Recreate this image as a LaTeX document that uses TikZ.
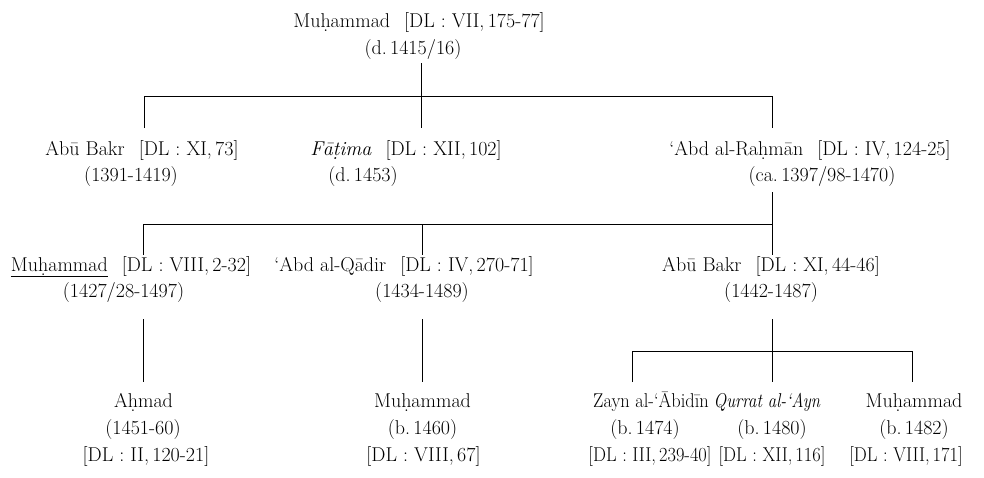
\documentclass[tikz,border=0pt]{standalone}
\usepackage{graphicx}
\newcommand\gp{\hspace{0.7em}}
\newcommand\cnd[2][0.92]{\scalebox{#1}[1]{#2}}
\begin{document}
\begin{tikzpicture}[x=1pt,y=-1pt,
  txt/.style={inner sep=0pt,anchor=base,font=\fontsize{20}{24}\selectfont},
  ln/.style={line width=1pt}]
\useasboundingbox (0,0) rectangle (984,477);
% row 1
\node[txt] (r1a) at (419,27) {Muḥammad\gp[DL : VII,\,175-77]};
\node[txt] (r1b) at (413,54) {(d.\,1415/16)};
% row 2
\node[txt] (r2a) at (142,155) {Abū Bakr\gp[DL : XI,\,73]};
\node[txt] (r2ad) at (131,181) {(1391-1419)};
\node[txt] (r2b) at (406,155) {\textit{Fāṭima}\gp[DL : XII,\,102]};
\node[txt] (r2bd) at (363,181) {(d.\,1453)};
\node[txt] (r2c) at (810,155) {‘Abd al-Raḥmān\gp[DL : IV,\,124-25]};
\node[txt] (r2cd) at (822,181) {(ca.\,1397/98-1470)};
% row 3
\node[txt] (r3a) at (131,271) {\underline{Muḥammad}\gp[DL : VIII,\,2-32]};
\node[txt] (r3ad) at (123.5,297) {(1427/28-1497)};
\node[txt] (r3b) at (404,271) {‘Abd al-Qādir\gp[DL : IV,\,270-71]};
\node[txt] (r3bd) at (422,297) {(1434-1489)};
\node[txt] (r3c) at (771,271) {Abū Bakr\gp[DL : XI,\,44-46]};
\node[txt] (r3cd) at (771,297) {(1442-1487)};
% row 4
\node[txt] (r4a) at (143.5,407) {Aḥmad};
\node[txt] (r4ad) at (143,434) {(1451-60)};
\node[txt] (r4ar) at (146,461) {[DL : II,\,120-21]};
\node[txt] (r4b) at (422.5,407) {Muḥammad};
\node[txt] (r4bd) at (422.5,434) {(b.\,1460)};
\node[txt] (r4br) at (423.5,461) {[DL : VIII,\,67]};
\node[txt] (r4c) at (651,407) {\cnd{Zayn al-‘Ābidīn}};
\node[txt] (r4cd) at (645,434) {(b.\,1474)};
\node[txt] (r4cr) at (650,461) {\cnd{[DL : III,\,239-40]}};
\node[txt] (r4d) at (767,407) {\cnd[0.84]{\textit{Qurrat al-‘Ayn}}};
\node[txt] (r4dd) at (772,434) {(b.\,1480)};
\node[txt] (r4dr) at (772,461) {\cnd{[DL : XII,\,116]}};
\node[txt] (r4e) at (914,407) {Muḥammad};
\node[txt] (r4ed) at (914,434) {(b.\,1482)};
\node[txt] (r4er) at (906,461) {\cnd{[DL : VIII,\,171]}};
% junctions
\coordinate (t1) at (421,63);
\coordinate (j1) at (421,96);
\coordinate (j1l) at (144,96);
\coordinate (j1r) at (772,96);
\coordinate (d1a) at (144,128);
\coordinate (d1b) at (421,128);
\coordinate (d1c) at (772,128);
\coordinate (t2) at (772,192);
\coordinate (j2) at (772,224);
\coordinate (j2l) at (143,224);
\coordinate (j2m) at (422,224);
\coordinate (d2a) at (143,255);
\coordinate (d2b) at (422,255);
\coordinate (d2c) at (772,255);
\coordinate (t3a) at (143,319);
\coordinate (t3b) at (422,319);
\coordinate (t3c) at (772,319);
\coordinate (d3a) at (143,382);
\coordinate (d3b) at (422,382);
\coordinate (j3) at (772,351);
\coordinate (j3l) at (632,351);
\coordinate (j3r) at (912,351);
\coordinate (d4c) at (632,382);
\coordinate (d4d) at (772,382);
\coordinate (d4e) at (912,382);
% connectors
\draw[ln] (t1) -- (d1b);
\draw[ln] (d1a) -- (j1l) -- (j1r) -- (d1c);
\draw[ln] (t2) -- (d2c);
\draw[ln] (d2a) -- (j2l) -- (j2);
\draw[ln] (j2m) -- (d2b);
\draw[ln] (t3a) -- (d3a);
\draw[ln] (t3b) -- (d3b);
\draw[ln] (t3c) -- (d4d);
\draw[ln] (d4c) -- (j3l) -- (j3r) -- (d4e);
\end{tikzpicture}
\end{document}
